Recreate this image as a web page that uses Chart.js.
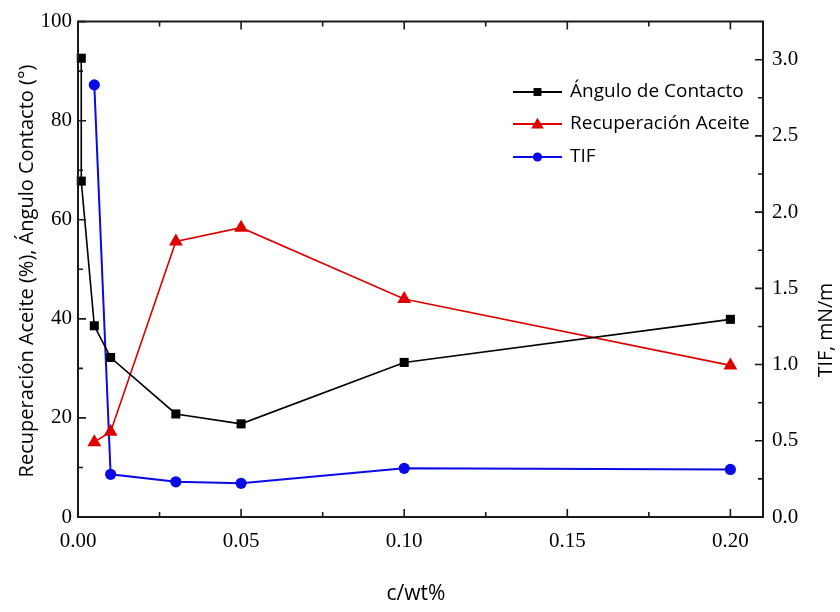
<!DOCTYPE html>
<html>
<head>
<meta charset="utf-8">
<script src="https://cdn.jsdelivr.net/npm/chart.js@4.4.1/dist/chart.umd.min.js"></script>
<style>
  html, body { margin: 0; padding: 0; background: #fff; }
  #wrap { width: 840px; height: 612px; position: relative; }
</style>
</head>
<body>
<div id="wrap"><canvas id="c" width="840" height="612"></canvas></div>
<script>
// Concentration (wt%) for each series
const concAngulo = [0.001, 0.001, 0.005, 0.01, 0.03, 0.05, 0.10, 0.20];
const concRecuperacion = [0.005, 0.01, 0.03, 0.05, 0.10, 0.20];
const concTIF = [0.005, 0.01, 0.03, 0.05, 0.10, 0.20];

// Measured values
const anguloContacto = [92.6, 67.8, 38.6, 32.2, 20.8, 18.8, 31.2, 39.9];      // degrees
const recuperacionAceite = [15.1, 17.2, 55.6, 58.4, 44.0, 30.6];               // %
const tif = [2.835, 0.280, 0.231, 0.221, 0.319, 0.312];                        // mN/m

// Series names
const seriesNames = ['Ángulo de Contacto', 'Recuperación Aceite', 'TIF'];

// Tick values and labels
const xTickValues = [0, 0.05, 0.10, 0.15, 0.20];
const xTickLabels = ['0.00', '0.05', '0.10', '0.15', '0.20'];
const leftTickValues = [0, 20, 40, 60, 80, 100];
const leftTickLabels = ['0', '20', '40', '60', '80', '100'];
const rightTickValues = [0, 0.5, 1.0, 1.5, 2.0, 2.5, 3.0];
const rightTickLabels = ['0.0', '0.5', '1.0', '1.5', '2.0', '2.5', '3.0'];

// Axis titles
const xTitle = 'c/wt%';
const leftTitle = 'Recuperación Aceite (%), Ángulo Contacto (°)';
const rightTitle = 'TIF, mN/m';

const serifFont = '"Liberation Serif", "Times New Roman", serif';
const sansFont = '"Open Sans", "Noto Sans", sans-serif';

function zip(xs, ys) { return xs.map((x, i) => ({ x: x, y: ys[i] })); }

function fixedTicks(values) {
  return function (scale) { scale.ticks = values.map(v => ({ value: v })); };
}
function labelFor(values, labels) {
  return function (value) {
    const i = values.findIndex(v => Math.abs(v - value) < 1e-9);
    return i >= 0 ? labels[i] : '';
  };
}

// Shape drawing shared by the legend
function drawMarker(ctx, style, x, y, r, color) {
  ctx.save();
  ctx.fillStyle = color;
  ctx.beginPath();
  if (style === 'rect') {
    const s = Math.SQRT1_2 * r;
    ctx.rect(x - s, y - s, 2 * s, 2 * s);
  } else if (style === 'triangle') {
    let a = 0;
    ctx.moveTo(x + Math.sin(a) * r, y - Math.cos(a) * r);
    a += 2 * Math.PI / 3;
    ctx.lineTo(x + Math.sin(a) * r, y - Math.cos(a) * r);
    a += 2 * Math.PI / 3;
    ctx.lineTo(x + Math.sin(a) * r, y - Math.cos(a) * r);
    ctx.closePath();
  } else {
    ctx.arc(x, y, r, 0, Math.PI * 2);
  }
  ctx.fill();
  ctx.restore();
}

// Frame with inward major/minor tick marks on all four sides
const framePlugin = {
  id: 'frameTicks',
  afterDatasetsDraw(chart) {
    const ctx = chart.ctx;
    const a = chart.chartArea;
    const xs = chart.scales.x, yl = chart.scales.y, yr = chart.scales.y1;
    const major = 8, minor = 5;
    ctx.save();
    ctx.strokeStyle = '#1a1a1a';
    ctx.lineWidth = 2;
    ctx.beginPath();
    ctx.rect(a.left, a.top, a.right - a.left, a.bottom - a.top);
    ctx.stroke();

    ctx.lineWidth = 1.6;
    ctx.beginPath();
    const mids = vals => vals.slice(1).map((v, i) => (v + vals[i]) / 2);
    // x axis (bottom and top)
    xTickValues.forEach(v => {
      const p = xs.getPixelForValue(v);
      ctx.moveTo(p, a.bottom); ctx.lineTo(p, a.bottom - major);
      ctx.moveTo(p, a.top); ctx.lineTo(p, a.top + major);
    });
    mids(xTickValues).forEach(v => {
      const p = xs.getPixelForValue(v);
      ctx.moveTo(p, a.bottom); ctx.lineTo(p, a.bottom - minor);
      ctx.moveTo(p, a.top); ctx.lineTo(p, a.top + minor);
    });
    // left axis
    leftTickValues.forEach(v => {
      const p = yl.getPixelForValue(v);
      ctx.moveTo(a.left, p); ctx.lineTo(a.left + major, p);
    });
    mids(leftTickValues).forEach(v => {
      const p = yl.getPixelForValue(v);
      ctx.moveTo(a.left, p); ctx.lineTo(a.left + minor, p);
    });
    // right axis
    rightTickValues.forEach(v => {
      const p = yr.getPixelForValue(v);
      ctx.moveTo(a.right, p); ctx.lineTo(a.right - major, p);
    });
    mids(rightTickValues).forEach(v => {
      const p = yr.getPixelForValue(v);
      ctx.moveTo(a.right, p); ctx.lineTo(a.right - minor, p);
    });
    ctx.stroke();
    ctx.restore();
  }
};

// Legend: line sample with marker, then the series name
const legendPlugin = {
  id: 'lineLegend',
  afterDraw(chart) {
    const ctx = chart.ctx;
    const rows = [92, 124, 157];
    const x0 = 513, x1 = 562, tx = 570;
    const sizes = [5.6, 7.2, 4.6];
    ctx.save();
    chart.data.datasets.forEach((ds, i) => {
      const y = rows[i];
      ctx.strokeStyle = ds.borderColor;
      ctx.lineWidth = 2;
      ctx.beginPath();
      ctx.moveTo(x0, y); ctx.lineTo(x1, y);
      ctx.stroke();
      drawMarker(ctx, ds.pointStyle, (x0 + x1) / 2, ds.pointStyle === 'triangle' ? y + 1 : y, sizes[i], ds.borderColor);
      ctx.fillStyle = '#000';
      ctx.font = '19px ' + sansFont;
      ctx.textAlign = 'left';
      ctx.textBaseline = 'middle';
      ctx.fillText(ds.label, tx, y);
    });
    ctx.restore();
  }
};

// Axis titles
const titlePlugin = {
  id: 'axisTitles',
  afterDraw(chart) {
    const ctx = chart.ctx;
    ctx.save();
    ctx.fillStyle = '#000';
    ctx.textAlign = 'center';
    ctx.textBaseline = 'middle';
    ctx.font = '21px ' + sansFont;
    ctx.fillText(xTitle, 416, 594);

    ctx.save();
    ctx.font = '20px ' + sansFont;
    ctx.translate(27, 271);
    ctx.rotate(-Math.PI / 2);
    ctx.fillText(leftTitle, 0, 0);
    ctx.restore();

    ctx.save();
    ctx.font = '19.5px ' + sansFont;
    ctx.translate(826, 330);
    ctx.rotate(-Math.PI / 2);
    ctx.fillText(rightTitle, 0, 0);
    ctx.restore();
    ctx.restore();
  }
};

const tickFont = { family: serifFont, size: 21 };

new Chart(document.getElementById('c'), {
  type: 'line',
  data: {
    datasets: [
      {
        label: seriesNames[0],
        data: zip(concAngulo, anguloContacto),
        yAxisID: 'y',
        borderColor: '#000000',
        backgroundColor: '#000000',
        borderWidth: 1.6,
        pointStyle: 'rect',
        pointRadius: 6.4,
        pointBorderWidth: 0,
        clip: false,
        tension: 0
      },
      {
        label: seriesNames[1],
        data: zip(concRecuperacion, recuperacionAceite),
        yAxisID: 'y',
        borderColor: '#dc0000',
        backgroundColor: '#dc0000',
        borderWidth: 1.6,
        pointStyle: 'triangle',
        pointRadius: 8,
        pointBorderWidth: 0,
        clip: false,
        tension: 0
      },
      {
        label: seriesNames[2],
        data: zip(concTIF, tif),
        yAxisID: 'y1',
        borderColor: '#0a0ae6',
        backgroundColor: '#0a0ae6',
        borderWidth: 2,
        pointStyle: 'circle',
        pointRadius: 5.6,
        pointBorderWidth: 0,
        clip: false,
        tension: 0
      }
    ]
  },
  options: {
    responsive: false,
    animation: false,
    devicePixelRatio: 1,
    layout: { padding: { top: 17, left: 0, right: 0, bottom: 0 } },
    plugins: { legend: { display: false }, tooltip: { enabled: false } },
    scales: {
      x: {
        type: 'linear',
        position: 'bottom',
        min: 0,
        max: 0.21,
        grid: { display: false, drawTicks: false },
        border: { display: false },
        afterBuildTicks: fixedTicks(xTickValues),
        afterFit(s) { s.height = 95; },
        ticks: {
          callback: labelFor(xTickValues, xTickLabels),
          font: tickFont,
          color: '#000',
          padding: 12,
          maxRotation: 0,
          autoSkip: false
        }
      },
      y: {
        type: 'linear',
        position: 'left',
        min: 0,
        max: 100,
        grid: { display: false, drawTicks: false },
        border: { display: false },
        afterBuildTicks: fixedTicks(leftTickValues),
        afterFit(s) { s.width = 78; },
        ticks: {
          callback: labelFor(leftTickValues, leftTickLabels),
          font: tickFont,
          color: '#000',
          padding: 6,
          autoSkip: false
        }
      },
      y1: {
        type: 'linear',
        position: 'right',
        min: 0,
        max: 3.25,
        grid: { display: false, drawTicks: false },
        border: { display: false },
        afterBuildTicks: fixedTicks(rightTickValues),
        afterFit(s) { s.width = 77; },
        ticks: {
          callback: labelFor(rightTickValues, rightTickLabels),
          font: tickFont,
          color: '#000',
          padding: 9,
          autoSkip: false
        }
      }
    }
  },
  plugins: [framePlugin, legendPlugin, titlePlugin]
});
</script>
</body>
</html>
